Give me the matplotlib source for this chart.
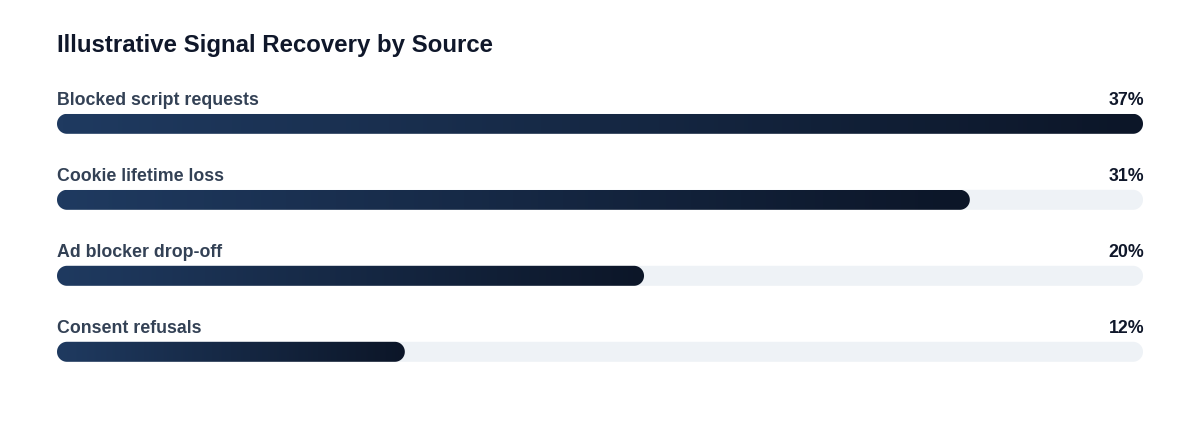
import matplotlib
matplotlib.use("Agg")
import matplotlib.pyplot as plt
import numpy as np
from matplotlib.patches import PathPatch
from matplotlib.path import Path
from matplotlib.colors import LinearSegmentedColormap
from matplotlib.transforms import offset_copy

title = "Illustrative Signal Recovery by Source"
categories = ["Blocked script requests", "Cookie lifetime loss", "Ad blocker drop-off", "Consent refusals"]
values = [37, 31.1, 20, 11.85]
value_labels = ["37%", "31%", "20%", "12%"]
scale_max = 37

plt.rcParams['font.family'] = ['Liberation Sans', 'DejaVu Sans']

W, H, DPI = 1200, 432, 100
fig = plt.figure(figsize=(W / DPI, H / DPI), dpi=DPI)
fig.patch.set_facecolor("white")

left_px, right_px = 57, 1143
row_px = 76
top_px = 123.8 - row_px / 2
n = len(categories)
ax = fig.add_axes([left_px / W, 1 - (top_px + n * row_px) / H,
                   (right_px - left_px) / W, n * row_px / H])
ax.set_xlim(0, scale_max)
ax.set_ylim(n - 0.5, -0.5)
ax.axis("off")

fig.canvas.draw()
p0 = ax.transData.transform((0, 0))
p1 = ax.transData.transform((1, 1))
px_per_x = abs(p1[0] - p0[0])
px_per_y = abs(p1[1] - p0[1])

bar_h_px = 20
bar_h = bar_h_px / px_per_y
rx = (bar_h_px / 2) / px_per_x
ry = bar_h / 2


def capsule(x0, x1, yc):
    t_right = np.linspace(-np.pi / 2, np.pi / 2, 40)
    t_left = np.linspace(np.pi / 2, 3 * np.pi / 2, 40)
    xr = (x1 - rx) + rx * np.cos(t_right)
    yr = yc + ry * np.sin(t_right)
    xl = (x0 + rx) + rx * np.cos(t_left)
    yl = yc + ry * np.sin(t_left)
    xs = np.concatenate([xr, xl, xr[:1]])
    ys = np.concatenate([yr, yl, yr[:1]])
    verts = np.column_stack([xs, ys])
    codes = [Path.MOVETO] + [Path.LINETO] * (len(verts) - 2) + [Path.CLOSEPOLY]
    return Path(verts, codes)


cmap = LinearSegmentedColormap.from_list("g", ["#1f3a60", "#0c1628"])
grad = np.linspace(0, 1, 256).reshape(1, -1)

track_color = "#eef2f6"
pt = 72 / DPI
fs_label = 17.8 * pt

for i, (cat, v, lab) in enumerate(zip(categories, values, value_labels)):
    track = PathPatch(capsule(0, scale_max, i), facecolor=track_color,
                      edgecolor="none", zorder=1)
    ax.add_patch(track)
    clip = PathPatch(capsule(0, v, i), facecolor="none", edgecolor="none")
    ax.add_patch(clip)
    im = ax.imshow(grad, cmap=cmap, aspect="auto",
                   extent=[0, v, i + bar_h / 2, i - bar_h / 2],
                   interpolation="bilinear", zorder=2)
    im.set_clip_path(clip)
    trl = offset_copy(ax.transData, fig=fig, x=0, y=9 * pt, units="points")
    trr = offset_copy(ax.transData, fig=fig, x=1.5 * pt, y=9 * pt, units="points")
    ax.text(0, i - bar_h / 2, cat, transform=trl,
            ha="left", va="baseline", fontsize=fs_label, fontweight="bold", color="#334155")
    ax.text(scale_max, i - bar_h / 2, lab, transform=trr,
            ha="right", va="baseline", fontsize=fs_label, fontweight="bold", color="#0f172a")

ax.set_xlim(0, scale_max)
ax.set_ylim(n - 0.5, -0.5)

fig.text(left_px / W, 1 - 52 / H, title, ha="left", va="baseline",
         fontsize=24 * pt, fontweight="bold", color="#0f172a")

fig.savefig("out.png", dpi=DPI, facecolor="white")
